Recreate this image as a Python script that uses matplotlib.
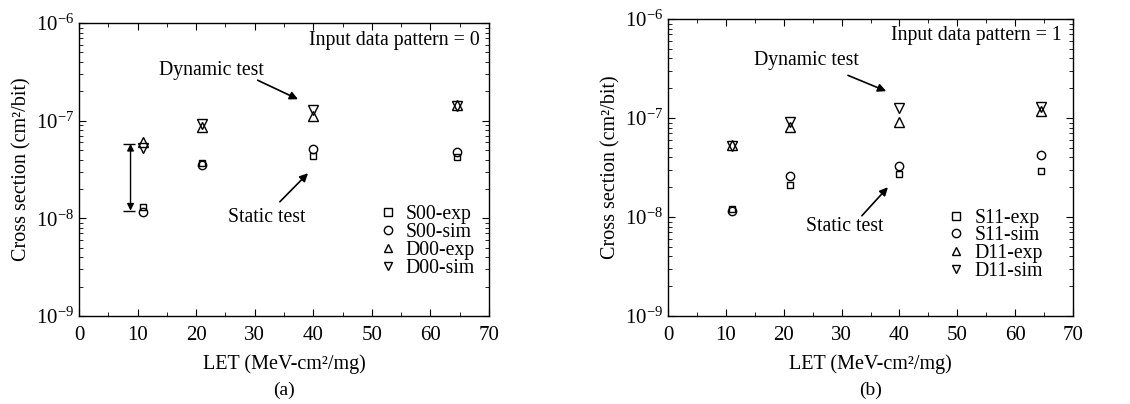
import matplotlib
matplotlib.use("Agg")
import matplotlib.pyplot as plt
import matplotlib.ticker as ticker

plt.rcParams['font.family'] = ['Liberation Serif', 'DejaVu Serif']
plt.rcParams['mathtext.fontset'] = 'custom'
plt.rcParams['mathtext.rm'] = 'Liberation Serif'
plt.rcParams['mathtext.it'] = 'Liberation Serif:italic'

# LET values (MeV-cm2/mg)
let = [11, 21, 40, 64.5]

# panel (a): input data pattern = 0
s00_exp = [1.3e-8, 3.7e-8, 4.4e-8, 4.3e-8]
s00_sim = [1.17e-8, 3.5e-8, 5.1e-8, 4.8e-8]
d00_exp = [6.1e-8, 8.7e-8, 1.12e-7, 1.45e-7]
d00_sim = [5.3e-8, 9.2e-8, 1.29e-7, 1.40e-7]

# panel (b): input data pattern = 1
s11_exp = [1.2e-8, 2.1e-8, 2.7e-8, 2.95e-8]
s11_sim = [1.15e-8, 2.6e-8, 3.3e-8, 4.2e-8]
d11_exp = [5.4e-8, 8.2e-8, 9.2e-8, 1.18e-7]
d11_sim = [5.2e-8, 9.1e-8, 1.26e-7, 1.29e-7]

# double arrow on panel (a)
span_x = 8.8
span_lo, span_hi = 1.2e-8, 5.8e-8

y_major = [1e-9, 1e-8, 1e-7, 1e-6]

panels = [
    dict(pos=[0.0699, 0.2178, 0.3628, 0.725], tag='0', names=['S00', 'D00'],
         data=[s00_exp, s00_sim, d00_exp, d00_sim], sub='(a)',
         tag_xy=(0.978, 0.942),
         dyn_text=(22.7, 3.3e-7), dyn_from=(30.5, 2.6e-7), dyn_to=(37.4, 1.66e-7),
         sta_text=(32.1, 1.03e-8), sta_from=(34.3, 1.48e-8), sta_to=(39.1, 2.9e-8),
         leg_anchor=(0.965, 0.378)),
    dict(pos=[0.5912, 0.2178, 0.3584, 0.735], tag='1', names=['S11', 'D11'],
         data=[s11_exp, s11_sim, d11_exp, d11_sim], sub='(b)',
         tag_xy=(0.973, 0.943),
         dyn_text=(23.9, 3.8e-7), dyn_from=(31.1, 2.7e-7), dyn_to=(37.7, 1.87e-7),
         sta_text=(30.6, 8.1e-9), sta_from=(33.5, 1.03e-8), sta_to=(38.0, 2.0e-8),
         leg_anchor=(0.925, 0.362)),
]

fig = plt.figure(figsize=(11.3, 4.04), dpi=100)

for p in panels:
    ax = fig.add_axes(p['pos'])
    ax.set_yscale('log')
    ax.set_xlim(0, 70)
    ax.set_ylim(1e-9, 1e-6)

    se, ss, de, ds = p['data']
    sn, dn = p['names']
    kw = dict(linestyle='none', markerfacecolor='none', markeredgecolor='black',
              markeredgewidth=1.0)
    ax.plot(let, se, marker='s', markersize=5, label=sn + '-exp', **kw)
    ax.plot(let, ss, marker='o', markersize=6, label=sn + '-sim', **kw)
    ax.plot(let, de, marker='^', markersize=7.5, label=dn + '-exp', **kw)
    ax.plot(let, ds, marker='v', markersize=7.5, label=dn + '-sim', **kw)

    ax.xaxis.set_major_locator(ticker.MultipleLocator(10))
    ax.xaxis.set_minor_locator(ticker.MultipleLocator(5))
    ax.yaxis.set_major_locator(ticker.FixedLocator(y_major))
    ax.yaxis.set_major_formatter(ticker.LogFormatterMathtext())
    minors = [m * v for v in y_major[:-1] for m in range(2, 10)]
    ax.yaxis.set_minor_locator(ticker.FixedLocator(minors))
    ax.yaxis.set_minor_formatter(ticker.NullFormatter())
    ax.tick_params(which='both', direction='in', top=True, right=True, labelsize=15)
    ax.tick_params(which='major', length=5, width=0.8)
    ax.tick_params(which='minor', length=3, width=0.6)
    ax.tick_params(axis='x', pad=7)
    for sp in ax.spines.values():
        sp.set_linewidth(1.0)

    ax.set_xlabel('LET (MeV-cm²/mg)', fontsize=14.5, labelpad=7)
    ax.set_ylabel('Cross section (cm²/bit)', fontsize=14.5, labelpad=3)

    ax.text(*p['tag_xy'], 'Input data pattern = ' + p['tag'], transform=ax.transAxes,
            ha='right', va='center', fontsize=14.2)
    ax.text(*p['dyn_text'], 'Dynamic test', ha='center', va='center', fontsize=14.2)
    ax.annotate('', xy=p['dyn_to'], xytext=p['dyn_from'],
                arrowprops=dict(arrowstyle='-|>', color='black', lw=1.2,
                                mutation_scale=12, shrinkA=0, shrinkB=0))
    ax.text(*p['sta_text'], 'Static test', ha='center', va='center', fontsize=14.2)
    ax.annotate('', xy=p['sta_to'], xytext=p['sta_from'],
                arrowprops=dict(arrowstyle='-|>', color='black', lw=1.2,
                                mutation_scale=12, shrinkA=0, shrinkB=0))

    leg = ax.legend(loc='upper right', bbox_to_anchor=p['leg_anchor'], frameon=False,
                    fontsize=14.2, handlelength=0.8, handletextpad=0.5,
                    labelspacing=-0.06, borderpad=0, borderaxespad=0)
    for h in leg.legend_handles:
        h.set_markersize(6)

    fig.text(p['pos'][0] + p['pos'][2] / 2, 0.035, p['sub'], ha='center', va='center',
             fontsize=14)

    if p['tag'] == '0':
        ax.annotate('', xy=(span_x, span_hi), xytext=(span_x, span_lo),
                    arrowprops=dict(arrowstyle='<|-|>', color='black', lw=1.0,
                                    mutation_scale=10, shrinkA=0, shrinkB=0))
        ax.hlines([span_lo, span_hi], span_x - 1.3, span_x + 0.8, colors='black', lw=1.0)

fig.savefig('out.png', dpi=100)
